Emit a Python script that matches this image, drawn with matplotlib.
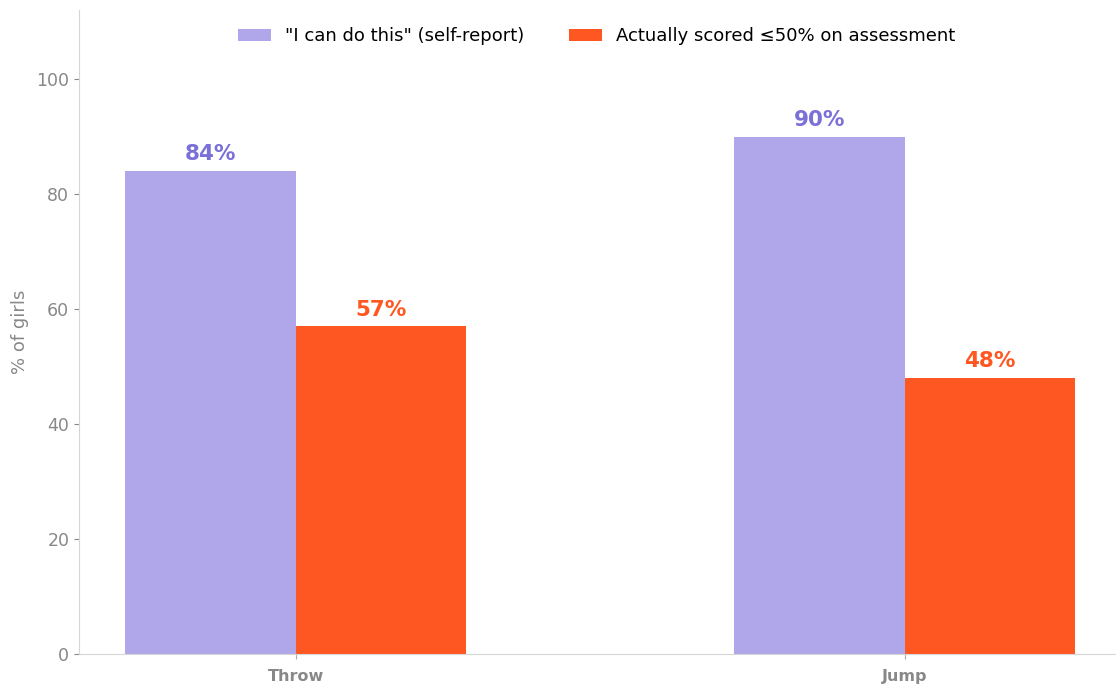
import matplotlib
matplotlib.use("Agg")
from matplotlib import pyplot as plt
import numpy as np

categories = ["Throw", "Jump"]
self_report = [84, 90]
scored_low = [57, 48]
series_labels = ['"I can do this" (self-report)', 'Actually scored \u226450% on assessment']

purple = "#b0a6ea"
purple_txt = "#7b6fd8"
orange = "#ff5722"
grey = "#888888"

fig = plt.figure(figsize=(11.16, 6.84), dpi=100)
ax = fig.add_axes([0.0708, 0.0439, 0.928, 0.941])

x = np.arange(len(categories))
w = 0.28
b1 = ax.bar(x - w / 2, self_report, w, color=purple, label=series_labels[0])
b2 = ax.bar(x + w / 2, scored_low, w, color=orange, label=series_labels[1])

for rect, v in zip(b1, self_report):
    ax.text(rect.get_x() + rect.get_width() / 2, v + 1.2, f"{v}%", ha="center", va="bottom",
            fontsize=15.5, fontweight="bold", color=purple_txt)
for rect, v in zip(b2, scored_low):
    ax.text(rect.get_x() + rect.get_width() / 2, v + 1.2, f"{v}%", ha="center", va="bottom",
            fontsize=15.5, fontweight="bold", color=orange)

ax.set_xlim(-0.356, 1.345)
ax.set_ylim(0, 112)
ax.set_xticks(x)
ax.set_xticklabels(categories, fontweight="bold", color=grey, fontsize=11.5)
ax.set_yticks([0, 20, 40, 60, 80, 100])
ax.tick_params(axis="y", colors=grey, labelsize=12.5)
ax.tick_params(axis="x", colors="#aaaaaa", labelcolor=grey, pad=7)
ax.set_ylabel("% of girls", color=grey, fontsize=13, labelpad=5)

for s in ["top", "right"]:
    ax.spines[s].set_visible(False)
for s in ["left", "bottom"]:
    ax.spines[s].set_color("#d6d6d6")

ax.legend(loc="upper center", ncol=2, frameon=False, fontsize=13, bbox_to_anchor=(0.5, 0.999),
          handlelength=1.8, columnspacing=2.5)

fig.savefig("out.png", dpi=100)
